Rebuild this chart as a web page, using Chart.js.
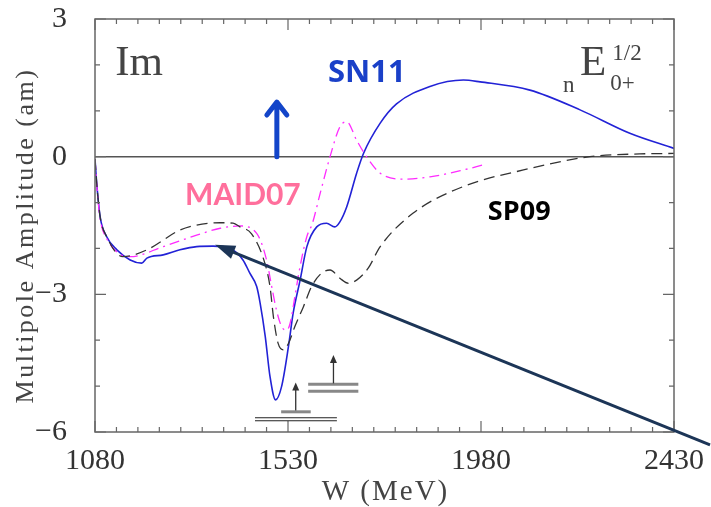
<!DOCTYPE html>
<html>
<head>
<meta charset="utf-8">
<script src="https://cdn.jsdelivr.net/npm/chart.js@4.4.1/dist/chart.umd.min.js"></script>
<style>
  html, body { margin: 0; padding: 0; background: #fff; }
  #wrap { width: 711px; height: 507px; position: relative; }
</style>
</head>
<body>
<div id="wrap"><canvas id="amp"></canvas></div>
<script>
// Im nE0+ (isospin 1/2) multipole, W in MeV, amplitude in am
const snW = [1080, 1084, 1092, 1107, 1131, 1162, 1189, 1201, 1239, 1278, 1317, 1355, 1395, 1425, 1441, 1457, 1465, 1477, 1488, 1501, 1515, 1531, 1542, 1558, 1574, 1597, 1620, 1639, 1651, 1667, 1690, 1706, 1745, 1783, 1861, 1939, 1978, 2094, 2211, 2327, 2430];
const snAmp = [-0.05, -0.58, -1.31, -1.74, -2.03, -2.25, -2.32, -2.21, -2.14, -2.03, -1.96, -1.95, -2.0, -2.25, -2.54, -2.83, -3.19, -3.92, -4.79, -5.30, -5.01, -4.14, -3.41, -2.7, -1.96, -1.53, -1.45, -1.53, -1.42, -1.09, -0.36, 0.07, 0.73, 1.15, 1.53, 1.67, 1.63, 1.45, 1.02, 0.51, 0.18];

const spW = [1080, 1084, 1092, 1107, 1145, 1201, 1278, 1317, 1372, 1402, 1418, 1445, 1476, 1488, 1496, 1507, 1519, 1531, 1546, 1566, 1585, 1608, 1628, 1651, 1671, 1690, 1717, 1745, 1822, 1939, 2079, 2234, 2350, 2430];
const spAmp = [-0.05, -0.58, -1.31, -1.74, -2.18, -2.03, -1.60, -1.49, -1.44, -1.45, -1.53, -1.68, -2.32, -2.83, -3.49, -4.07, -4.21, -4.07, -3.70, -3.27, -2.83, -2.54, -2.47, -2.65, -2.76, -2.69, -2.43, -1.96, -1.23, -0.65, -0.29, 0.0, 0.06, 0.07];

const maidW = [1080, 1084, 1092, 1107, 1162, 1239, 1317, 1372, 1418, 1457, 1480, 1492, 1503, 1515, 1527, 1535, 1546, 1558, 1574, 1587, 1605, 1628, 1651, 1667, 1690, 1713, 1745, 1799, 1861, 1939, 1985];
const maidAmp = [-0.05, -0.6, -1.35, -1.78, -2.18, -1.96, -1.71, -1.56, -1.51, -1.67, -2.25, -2.83, -3.34, -3.70, -3.78, -3.63, -3.05, -2.40, -1.74, -1.45, -0.80, 0.0, 0.65, 0.76, 0.36, 0.0, -0.36, -0.49, -0.44, -0.29, -0.18];

const xTicks = [1080, 1530, 1980, 2430];
const yTicks = [-6, -3, 0, 3];

const pts = (ws, as) => ws.map((w, i) => ({ x: w, y: as[i] }));

const serif = '"Liberation Serif", "DejaVu Serif", serif';

function arrowHead(ctx, x1, y1, x2, y2, len, half) {
  const ang = Math.atan2(y2 - y1, x2 - x1);
  ctx.beginPath();
  ctx.moveTo(x2, y2);
  ctx.lineTo(x2 - len * Math.cos(ang) + half * Math.sin(ang), y2 - len * Math.sin(ang) - half * Math.cos(ang));
  ctx.lineTo(x2 - len * Math.cos(ang) - half * Math.sin(ang), y2 - len * Math.sin(ang) + half * Math.cos(ang));
  ctx.closePath();
  ctx.fill();
}

const decor = {
  id: 'decor',
  beforeDatasetsDraw(chart) {
    const { ctx, chartArea: a, scales: { y } } = chart;
    const y0 = y.getPixelForValue(0);
    ctx.save();
    ctx.strokeStyle = '#555';
    ctx.lineWidth = 1.5;
    ctx.beginPath();
    ctx.moveTo(a.left, y0);
    ctx.lineTo(a.right, y0);
    ctx.stroke();
    ctx.restore();
  },
  afterDatasetsDraw(chart) {
    const { ctx, chartArea: a, scales: { x, y } } = chart;
    const px = w => x.getPixelForValue(w);
    const py = v => y.getPixelForValue(v);
    ctx.save();

    // frame and inward ticks on all four sides
    ctx.strokeStyle = '#666';
    ctx.lineWidth = 1.5;
    ctx.strokeRect(a.left, a.top, a.right - a.left, a.bottom - a.top);
    ctx.lineWidth = 1.2;
    ctx.beginPath();
    for (let w = 1080; w <= 2430; w += 50) {
      const len = xTicks.includes(w) ? 11 : 5;
      ctx.moveTo(px(w), a.bottom); ctx.lineTo(px(w), a.bottom - len);
      ctx.moveTo(px(w), a.top); ctx.lineTo(px(w), a.top + len);
    }
    for (let v = -6; v <= 3; v++) {
      const len = yTicks.includes(v) ? 11 : 5;
      ctx.moveTo(a.left, py(v)); ctx.lineTo(a.left + len, py(v));
      ctx.moveTo(a.right, py(v)); ctx.lineTo(a.right - len, py(v));
    }
    ctx.stroke();

    // threshold markers
    const hline = (w1, w2, v, lw, col, dy) => {
      ctx.strokeStyle = col; ctx.lineWidth = lw;
      ctx.beginPath();
      ctx.moveTo(px(w1), py(v) + (dy || 0)); ctx.lineTo(px(w2), py(v) + (dy || 0));
      ctx.stroke();
    };
    const upArrow = (w, v1, v2) => {
      ctx.strokeStyle = '#333'; ctx.fillStyle = '#333'; ctx.lineWidth = 1.3;
      ctx.beginPath();
      ctx.moveTo(px(w), py(v1)); ctx.lineTo(px(w), py(v2) + 6);
      ctx.stroke();
      arrowHead(ctx, px(w), py(v1), px(w), py(v2), 8, 3.5);
    };
    hline(1453, 1644, -5.69, 1.2, '#222');
    hline(1453, 1644, -5.69, 1.2, '#222', 3);
    hline(1514, 1583, -5.56, 3, '#888');
    upArrow(1548, -5.53, -4.92);
    hline(1577, 1694, -4.96, 3, '#888');
    hline(1577, 1694, -4.96, 3, '#888', 7);
    upArrow(1636, -4.94, -4.32);

    // vertical blue arrow
    const bx = px(1504), bTop = py(1.19);
    ctx.strokeStyle = '#1345c9';
    ctx.lineWidth = 5;
    ctx.lineCap = 'round';
    ctx.lineJoin = 'round';
    ctx.beginPath();
    ctx.moveTo(bx, py(0)); ctx.lineTo(bx, bTop + 2);
    ctx.moveTo(bx - 10, bTop + 13); ctx.lineTo(bx, bTop); ctx.lineTo(bx + 10, bTop + 13);
    ctx.stroke();

    // long navy pointer onto the SN11 shoulder
    const x1 = px(2514), y1 = py(-6.28), x2 = px(1360), y2 = py(-1.92);
    ctx.strokeStyle = '#1c3557';
    ctx.fillStyle = '#1c3557';
    ctx.lineWidth = 3;
    ctx.lineCap = 'butt';
    const ang = Math.atan2(y2 - y1, x2 - x1);
    ctx.beginPath();
    ctx.moveTo(x1, y1); ctx.lineTo(x2 - 14 * Math.cos(ang), y2 - 14 * Math.sin(ang));
    ctx.stroke();
    arrowHead(ctx, x1, y1, x2, y2, 20, 7);

    // curve labels
    ctx.textBaseline = 'alphabetic';
    ctx.textAlign = 'left';
    ctx.fillStyle = '#444';
    ctx.font = '43px ' + serif;
    ctx.fillText('Im', px(1127), py(1.78));
    const ex = px(2211), eBase = py(1.78);
    ctx.fillText('E', ex, eBase);
    const ew = ctx.measureText('E').width;
    ctx.font = '23px ' + serif;
    ctx.fillText('n', px(2171), py(1.41));
    ctx.fillText('0+', ex + ew + 4, eBase + 15);
    ctx.fillText('1/2', ex + ew + 6, eBase - 15);

    ctx.font = 'bold 31px "Open Sans", "Noto Sans", sans-serif';
    ctx.fillStyle = '#1a40c8';
    ctx.fillText('SN11', px(1623), py(1.63));
    ctx.fillStyle = '#000';
    ctx.font = 'bold 27px "Open Sans", "Noto Sans", sans-serif';
    ctx.fillText('SP09', px(1996), py(-1.38));
    ctx.fillStyle = '#ff6f9c';
    ctx.font = 'bold 30px "Comic Sans MS", Lato, sans-serif';
    ctx.fillText('MAID07', px(1290), py(-1.05));

    // axis titles
    ctx.fillStyle = '#444';
    ctx.textAlign = 'center';
    ctx.font = '29px ' + serif;
    ctx.letterSpacing = '2px';
    ctx.fillText('W (MeV)', (a.left + a.right) / 2 + 1, 500);
    ctx.save();
    ctx.translate(33, (a.top + a.bottom) / 2 + 10);
    ctx.rotate(-Math.PI / 2);
    ctx.font = '26px ' + serif;
    ctx.letterSpacing = '2.5px';
    ctx.fillText('Multipole Amplitude (am)', 0, 0);
    ctx.restore();

    ctx.restore();
  }
};

new Chart(document.getElementById('amp'), {
  type: 'line',
  data: {
    datasets: [
      {
        label: 'SP09',
        data: pts(spW, spAmp),
        borderColor: '#333',
        borderWidth: 1.3,
        borderDash: [11, 6],
      },
      {
        label: 'MAID07',
        data: pts(maidW, maidAmp),
        borderColor: '#ff2bff',
        borderWidth: 1.3,
        borderDash: [10, 5, 2, 5],
      },
      {
        label: 'SN11',
        data: pts(snW, snAmp),
        borderColor: '#2222d6',
        borderWidth: 1.6,
      },
    ],
  },
  options: {
    responsive: true,
    maintainAspectRatio: false,
    animation: false,
    events: [],
    layout: { padding: { top: 19, right: 37, left: 0, bottom: 0 } },
    elements: {
      point: { radius: 0 },
      line: { cubicInterpolationMode: 'monotone', fill: false },
    },
    plugins: {
      legend: { display: false },
      tooltip: { enabled: false },
    },
    scales: {
      x: {
        type: 'linear',
        min: 1080,
        max: 2430,
        grid: { display: false },
        border: { display: false },
        afterBuildTicks: s => { s.ticks = xTicks.map(v => ({ value: v })); },
        afterFit: s => { s.height = 75; s.paddingLeft = 0; s.paddingRight = 0; },
        ticks: {
          padding: 3,
          maxRotation: 0,
          color: '#333',
          font: { family: serif, size: 30 },
          callback: v => String(v),
        },
      },
      y: {
        min: -6,
        max: 3,
        grid: { display: false },
        border: { display: false },
        afterBuildTicks: s => { s.ticks = yTicks.map(v => ({ value: v })); },
        afterFit: s => { s.width = 95; s.paddingTop = 0; s.paddingBottom = 0; },
        ticks: {
          padding: 20,
          color: '#333',
          font: { family: serif, size: 30 },
          callback: v => (v < 0 ? '\u2212' + Math.abs(v) : String(v)),
        },
      },
    },
  },
  plugins: [decor],
});
</script>
</body>
</html>
